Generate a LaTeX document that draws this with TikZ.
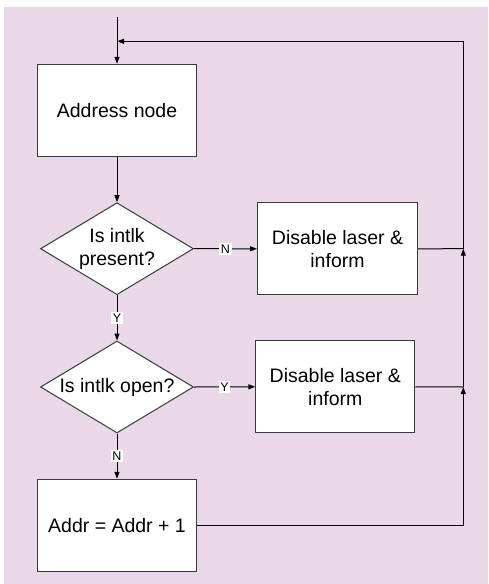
\documentclass[tikz,border=0pt]{standalone}
\usepackage{fontspec}
\setmainfont{Liberation Sans}
\usetikzlibrary{shapes.geometric,arrows.meta}
\definecolor{bgpink}{HTML}{E8D8E8}
\definecolor{boxline}{HTML}{3A3A3A}
\begin{document}
\begin{tikzpicture}[x=1pt,y=-1pt,
  every node/.style={font=\fontsize{19.5}{23.3}\selectfont},
  procbox/.style={draw=boxline,line width=1pt,fill=white,minimum width=159pt,minimum height=92pt,inner sep=0pt,align=center},
  decision/.style={diamond,draw=boxline,line width=1pt,fill=white,minimum width=153pt,minimum height=92pt,inner sep=0pt,aspect=1.66,align=center},
  conn/.style={line width=1pt,draw=black},
  arr/.style={conn,-{Triangle[length=7pt,width=5pt]}},
  tag/.style={fill=white,inner sep=1.5pt,font=\fontsize{12.5}{13}\selectfont}]
\useasboundingbox (0,0) rectangle (488,584);
\fill[bgpink] (4,7) rectangle (488,584);
\node[procbox] (addr) at (117,110.3) {Address node};
\node[decision] (d1) at (117,248.7) {Is intlk\\present?};
\node[procbox,minimum width=160pt] (b1) at (337.5,248.8) {Disable laser \&\\inform};
\node[decision] (d2) at (117,387) {Is intlk open?};
\node[procbox,minimum width=159pt] (b2) at (335.3,386.8) {Disable laser \&\\inform};
\node[procbox] (inc) at (117,525.3) {Addr = Addr + 1};
\coordinate (start) at (117,17);
\coordinate (top) at (463.3,41.3);
\coordinate (entry) at (117,41.3);
\coordinate (j1) at (463.3,248.7);
\coordinate (j2) at (463.3,387);
\coordinate (bot) at (463.3,525.3);
\draw[arr] (start) -- (addr.north);
\draw[arr] (addr.south) -- (d1.north);
\draw[arr] (d1.east) -- node[tag] {N} (b1.west);
\draw[arr] (d1.south) -- node[tag] {Y} (d2.north);
\draw[arr] (d2.east) -- node[tag] {Y} (b2.west);
\draw[arr] (d2.south) -- node[tag] {N} (inc.north);
\draw[arr] (inc.east) -- (bot) -- (j2);
\draw[conn] (b2.east) -- (j2);
\draw[arr] (j2) -- (j1);
\draw[conn] (b1.east) -- (j1);
\draw[arr] (j1) -- (top) -- (entry);
\end{tikzpicture}
\end{document}
